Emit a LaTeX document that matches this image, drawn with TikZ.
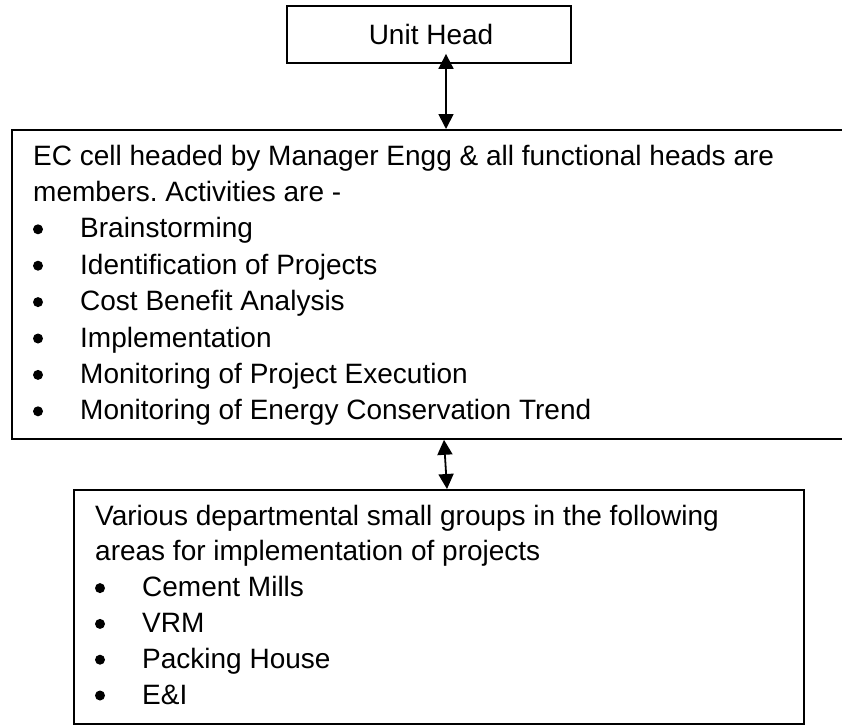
\documentclass[tikz,border=0pt]{standalone}
\usepackage{fontspec}
\setmainfont{Liberation Sans}
\usetikzlibrary{arrows.meta}

\begin{document}
\begin{tikzpicture}[x=1pt,y=1pt,
  frame/.style={draw=black,line width=1.8pt,fill=none},
  txt/.style={anchor=base west,inner sep=0pt,font=\fontsize{28}{34}\selectfont\frenchspacing},
  dot/.style={circle,fill=black,inner sep=0pt,minimum size=10pt},
  dbl/.style={line width=1.8pt,{Triangle[length=15pt,width=15pt]}-{Triangle[length=15pt,width=15pt]}}]
\path[use as bounding box,clip] (0,0) rectangle (842,-724);

% boxes
\node[frame,inner sep=0pt,minimum width=284pt,minimum height=57pt] (b1) at (429,-34.5) {};
\node[frame,inner sep=0pt,minimum width=859pt,minimum height=309pt,anchor=north west] (b2) at (11,-129) {};
\node[frame,inner sep=0pt,minimum width=730pt,minimum height=234pt,anchor=north west] (b3) at (73,-489) {};

% top box text
\node[txt,anchor=base] (uh) at (431,-44) {Unit Head};

% middle box text
\node[txt] (l1) at (33,-165) {EC cell headed by Manager Engg \& all functional heads are};
\node[txt] (l2) at (33,-201.4) {members. Activities are -};
\foreach \t [count=\i] in {Brainstorming,Identification of Projects,Cost Benefit Analysis,Implementation,Monitoring of Project Execution,Monitoring of Energy Conservation Trend}{
  \node[dot] (mb\i) at (38,-201.4-36.4*\i+8.5) {};
  \node[txt] (mt\i) at (80,-201.4-36.4*\i) {\t};
}

% bottom box text
\node[txt] (v1) at (95,-525) {Various departmental small groups in the following};
\node[txt] (v2) at (95,-560.8) {areas for implementation of projects};
\foreach \t [count=\i] in {Cement Mills,VRM,Packing House,E\&I}{
  \node[dot] (bb\i) at (100,-560.8-35.8*\i+8.5) {};
  \node[txt] (bt\i) at (142,-560.8-35.8*\i) {\t};
}

% connectors: double-headed arrows between the boxes
\coordinate (ax1) at (446,0);
\coordinate (ax2) at (444,0);
\coordinate (ax3) at (447,0);
\draw[dbl] ([yshift=10pt]b1.south -| ax1) -- (b2.north -| ax1);
\draw[dbl] (b2.south -| ax2) -- (b3.north -| ax3);
\end{tikzpicture}
\end{document}
